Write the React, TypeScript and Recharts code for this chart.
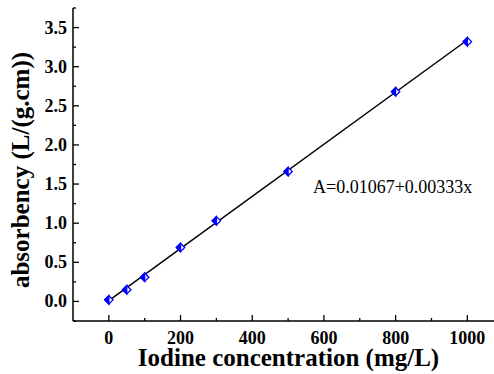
import React from 'react';
import { ScatterChart, Scatter, XAxis, YAxis } from 'recharts';

// measured points
const concentrations = [0, 50, 100, 200, 300, 500, 800, 1000];
const absorbances = [0.02, 0.15, 0.31, 0.69, 1.03, 1.66, 2.68, 3.32];

// linear fit A = 0.01067 + 0.00333x, endpoints
const fitX = [0, 1000];
const fitY = [0.011, 3.341];

const xTicks = [0, 100, 200, 300, 400, 500, 600, 700, 800, 900, 1000];
const yTicks = [-0.25, 0, 0.25, 0.5, 0.75, 1, 1.25, 1.5, 1.75, 2, 2.25, 2.5, 2.75, 3, 3.25, 3.5, 3.75];

const points = concentrations.map((x, i) => ({ x, y: absorbances[i] }));
const fitLine = fitX.map((x, i) => ({ x, y: fitY[i] }));

const FONT = '"Liberation Serif", "Times New Roman", serif';
const BLUE = '#0000ff';

const isMajorX = (v: number) => v % 200 === 0;
const isMajorY = (v: number) => Math.abs(v * 2 - Math.round(v * 2)) < 1e-9;

const BottomTick = ({ x, y, payload }: any) => {
  const v = payload.value;
  const major = isMajorX(v);
  return (
    <g>
      <line x1={x} y1={y} x2={x} y2={y - (major ? 6 : 3)} stroke="#000" strokeWidth={1.3} />
      {major && (
        <text x={x} y={y + 23} textAnchor="middle" fontFamily={FONT} fontWeight="bold" fontSize={18} fill="#000">
          {v}
        </text>
      )}
    </g>
  );
};

const TopTick = ({ x, y, payload }: any) => {
  const major = isMajorX(payload.value);
  return <line x1={x} y1={y} x2={x} y2={y + (major ? 6 : 3)} stroke="#000" strokeWidth={1.3} />;
};

const LeftTick = ({ x, y, payload }: any) => {
  const v = payload.value;
  const major = isMajorY(v);
  return (
    <g>
      <line x1={x} y1={y} x2={x + (major ? 6 : 3)} y2={y} stroke="#000" strokeWidth={1.3} />
      {major && v >= 0 && (
        <text x={x - 6} y={y + 6} textAnchor="end" fontFamily={FONT} fontWeight="bold" fontSize={18} fill="#000">
          {v.toFixed(1)}
        </text>
      )}
    </g>
  );
};

const RightTick = ({ x, y, payload }: any) => {
  const major = isMajorY(payload.value);
  return <line x1={x} y1={y} x2={x - (major ? 6 : 3)} y2={y} stroke="#000" strokeWidth={1.3} />;
};

const HalfDiamond = ({ cx, cy }: any) => {
  const r = 4.2;
  return (
    <g>
      <polygon
        points={`${cx},${cy - r} ${cx + r},${cy} ${cx},${cy + r} ${cx - r},${cy}`}
        fill="#fff"
        stroke={BLUE}
        strokeWidth={1.3}
      />
      <polygon points={`${cx},${cy - r} ${cx},${cy + r} ${cx - r},${cy}`} fill={BLUE} stroke={BLUE} strokeWidth={1.3} />
    </g>
  );
};

const NoDot = () => <g />;

const axisLine = { stroke: '#000', strokeWidth: 1.5 };

export default function App() {
  return (
    <div style={{ position: 'absolute', left: 0, top: 0, width: 494, height: 374, overflow: 'hidden', background: '#fff' }}>
      <ScatterChart width={500} height={374} margin={{ top: 8, right: 4, bottom: 0, left: 0 }}>
        <XAxis
          type="number"
          dataKey="x"
          domain={[-100, 1080]}
          ticks={xTicks}
          interval={0}
          allowDataOverflow
          height={53}
          tickSize={0}
          tickMargin={0}
          tickLine={false}
          axisLine={axisLine}
          tick={<BottomTick />}
        />
        <XAxis
          xAxisId="top"
          orientation="top"
          type="number"
          domain={[-100, 1080]}
          ticks={xTicks}
          interval={0}
          allowDataOverflow
          height={0}
          tickSize={0}
          tickMargin={0}
          tickLine={false}
          axisLine={axisLine}
          tick={<TopTick />}
        />
        <YAxis
          type="number"
          dataKey="y"
          domain={[-0.25, 3.75]}
          ticks={yTicks}
          interval={0}
          allowDataOverflow
          width={73}
          tickSize={0}
          tickMargin={0}
          tickLine={false}
          axisLine={axisLine}
          tick={<LeftTick />}
        />
        <YAxis
          yAxisId="right"
          orientation="right"
          type="number"
          domain={[-0.25, 3.75]}
          ticks={yTicks}
          interval={0}
          allowDataOverflow
          width={0}
          tickSize={0}
          tickMargin={0}
          tickLine={false}
          axisLine={axisLine}
          tick={<RightTick />}
        />
        <Scatter data={fitLine} line={{ stroke: '#000', strokeWidth: 1.5 }} shape={<NoDot />} isAnimationActive={false} />
        <Scatter data={points} shape={<HalfDiamond />} isAnimationActive={false} />
      </ScatterChart>
      <svg width={494} height={374} style={{ position: 'absolute', left: 0, top: 0, pointerEvents: 'none' }}>
        <text
          transform="translate(29,170) rotate(-90)"
          textAnchor="middle"
          fontFamily={FONT}
          fontWeight="bold"
          fontSize={25}
          fill="#000"
        >
          absorbency (L/(g.cm))
        </text>
        <text x={288.5} y={366} textAnchor="middle" fontFamily={FONT} fontWeight="bold" fontSize={25} fill="#000">
          Iodine concentration (mg/L)
        </text>
        <text x={313} y={193} fontFamily={FONT} fontSize={18} fill="#000">
          A=0.01067+0.00333x
        </text>
      </svg>
    </div>
  );
}
